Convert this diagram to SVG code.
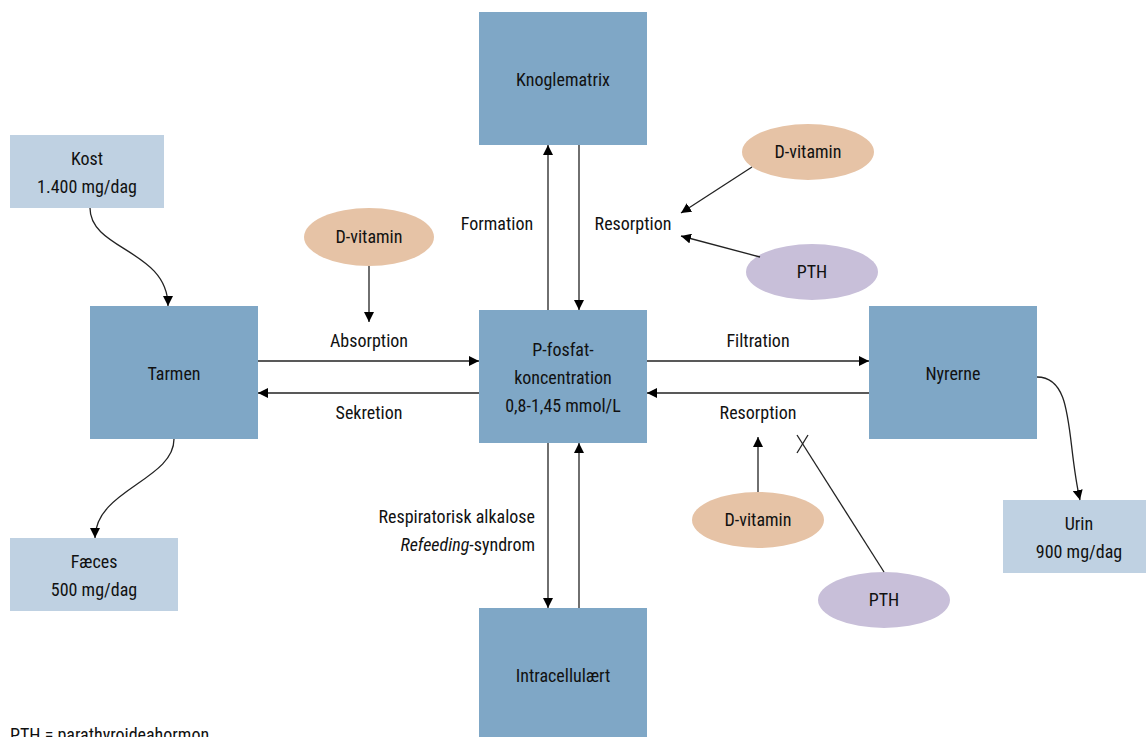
<svg xmlns="http://www.w3.org/2000/svg" width="1146" height="737" viewBox="0 0 1146 737">
<defs>
<marker id="ah" viewBox="0 0 10 10" refX="10" refY="5" markerWidth="10" markerHeight="10" markerUnits="userSpaceOnUse" orient="auto">
<path d="M0,0 L10,5 L0,10 z" fill="#000"/>
</marker>
<style>
text{font-family:"Liberation Sans Narrow","Roboto Condensed","Roboto",sans-serif;font-size:18px;fill:#111;text-anchor:middle}
.box{fill:#7fa7c6}
.lbox{fill:#bfd1e2}
.dv{fill:#e6c3a6}
.pth{fill:#c8bfd9}
.c line,.c path{stroke:#222;stroke-width:1.3;fill:none}
.a{marker-end:url(#ah)}
</style>
</defs>
<rect width="1146" height="737" fill="#fff"/>
<g id="knoglematrix"><rect class="box" x="479" y="12" width="168" height="133"/><text x="563" y="86">Knoglematrix</text></g>
<g id="kost"><rect class="lbox" x="10" y="135" width="154" height="73"/><text x="87" y="165">Kost</text><text x="87" y="193">1.400 mg/dag</text></g>
<g id="tarmen"><rect class="box" x="90" y="306" width="168" height="133"/><text x="174" y="380">Tarmen</text></g>
<g id="pfosfat"><rect class="box" x="479" y="310" width="168" height="133"/><text x="563" y="356">P-fosfat-</text><text x="563" y="384">koncentration</text><text x="563" y="412">0,8-1,45 mmol/L</text></g>
<g id="nyrerne"><rect class="box" x="869" y="306" width="168" height="133"/><text x="953" y="380">Nyrerne</text></g>
<g id="faeces"><rect class="lbox" x="10" y="538" width="168" height="73"/><text x="94" y="568">Fæces</text><text x="94" y="596">500 mg/dag</text></g>
<g id="urin"><rect class="lbox" x="1003" y="500" width="143" height="73"/><text x="1079" y="530">Urin</text><text x="1079" y="558">900 mg/dag</text></g>
<g id="intracellulaert"><rect class="box" x="479" y="608" width="168" height="129"/><text x="563" y="682">Intracellulært</text></g>
<g id="dvitamin1"><ellipse class="dv" cx="369" cy="237" rx="65" ry="29"/><text x="369" y="243">D-vitamin</text></g>
<g id="dvitamin2"><ellipse class="dv" cx="808" cy="152" rx="66" ry="28"/><text x="808" y="158">D-vitamin</text></g>
<g id="pth1"><ellipse class="pth" cx="812" cy="272" rx="66" ry="28"/><text x="812" y="278">PTH</text></g>
<g id="dvitamin3"><ellipse class="dv" cx="758" cy="520" rx="66" ry="28"/><text x="758" y="526">D-vitamin</text></g>
<g id="pth2"><ellipse class="pth" cx="884" cy="600" rx="66" ry="28"/><text x="884" y="606">PTH</text></g>
<g id="connectors" class="c">
<line class="a" x1="258" y1="361" x2="479" y2="361"/>
<line class="a" x1="479" y1="393" x2="258" y2="393"/>
<line class="a" x1="647" y1="361" x2="869" y2="361"/>
<line class="a" x1="869" y1="393" x2="647" y2="393"/>
<line class="a" x1="548" y1="310" x2="548" y2="145"/>
<line class="a" x1="579" y1="145" x2="579" y2="310"/>
<line class="a" x1="548" y1="443" x2="548" y2="608"/>
<line class="a" x1="579" y1="608" x2="579" y2="443"/>
<line class="a" x1="369" y1="266" x2="369" y2="322"/>
<line class="a" x1="752" y1="167" x2="681" y2="213"/>
<line class="a" x1="760" y1="257" x2="681" y2="236"/>
<line class="a" x1="758" y1="492" x2="758" y2="437"/>
<line x1="884" y1="572" x2="797" y2="435"/>
<line x1="808" y1="435" x2="797" y2="453"/>
<path class="a" d="M90,208 C90,250 168,250 168,306"/>
<path class="a" d="M174,439 C174,480 95,490 95,538"/>
<path class="a" d="M1037,377 C1075,377 1066,440 1080,500"/>
</g>
<g id="labels">
<text x="369" y="347">Absorption</text>
<text x="369" y="419">Sekretion</text>
<text x="758" y="347">Filtration</text>
<text x="758" y="419">Resorption</text>
<text x="497" y="230">Formation</text>
<text x="633" y="230">Resorption</text>
<text x="535" y="523" style="text-anchor:end">Respiratorisk alkalose</text>
<text x="535" y="551" style="text-anchor:end"><tspan font-style="italic">Refeeding</tspan>-syndrom</text>
<text x="10" y="741" style="text-anchor:start">PTH = parathyroideahormon</text>
</g>
</svg>
